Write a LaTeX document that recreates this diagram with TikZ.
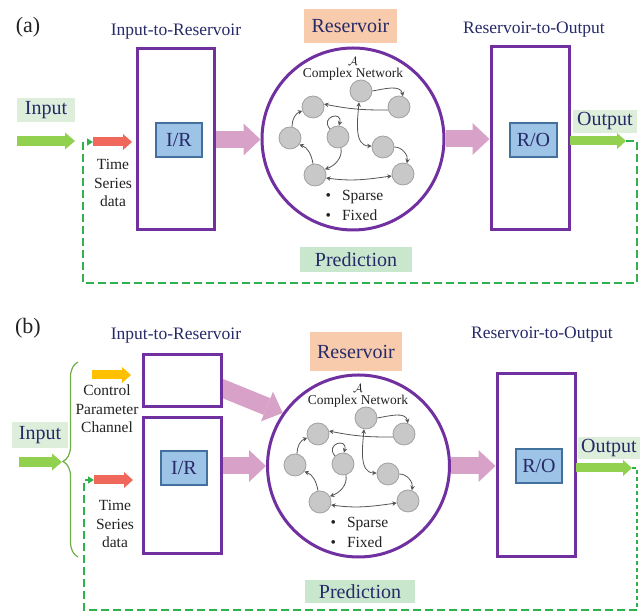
\documentclass[tikz,border=0pt]{standalone}
\usepackage{fontspec}
\setmainfont{Liberation Serif}
\usetikzlibrary{arrows.meta,decorations.pathreplacing,backgrounds,calc}
\definecolor{boxpurple}{HTML}{7030A0}
\definecolor{navy}{HTML}{262A68}
\definecolor{resfill}{HTML}{F8CBAD}
\definecolor{greenlab}{HTML}{DDEEDA}
\definecolor{predlab}{HTML}{C9E7CD}
\definecolor{irfill}{HTML}{9DC3E6}
\definecolor{irdraw}{HTML}{41719C}
\definecolor{arrgreen}{HTML}{92D050}
\definecolor{arrred}{HTML}{F0685C}
\definecolor{arryellow}{HTML}{FFC000}
\definecolor{arrpink}{HTML}{D8A2C8}
\definecolor{dashgreen}{HTML}{2EB34C}
\definecolor{bracegreen}{HTML}{70AD47}
\definecolor{nodegray}{HTML}{C8C8C8}
\definecolor{nodeline}{HTML}{A0A0A0}
\definecolor{edgegray}{HTML}{555555}
\definecolor{txt}{HTML}{222222}
\tikzset{
  bigbox/.style={draw=boxpurple, line width=3pt, fill=white, inner sep=0pt},
  smallbox/.style={draw=irdraw, line width=1.2pt, fill=irfill, inner sep=0pt, minimum width=46pt, minimum height=34pt, font=\fontsize{20}{20}\selectfont, text=navy},
  lab/.style={inner sep=0pt, font=\fontsize{20}{20}\selectfont, text=navy},
  heading/.style={font=\fontsize{17.5}{17.5}\selectfont, text=navy, inner sep=0pt},
  plab/.style={font=\fontsize{22}{22}\selectfont, inner sep=0pt, text=txt},
  smalltext/.style={font=\fontsize{15.5}{18.3}\selectfont, align=center, inner sep=0pt, text=txt},
  resv/.style={circle, draw=boxpurple, line width=3pt, fill=white, minimum size=182pt, inner sep=0pt},
  rnode/.style={circle, draw=nodeline, fill=nodegray, line width=0.8pt, minimum size=22pt, inner sep=0pt},
  redge/.style={draw=edgegray, line width=0.8pt, -{Stealth[length=4.5pt,width=4.5pt]}},
  redgetwo/.style={draw=edgegray, line width=0.8pt, {Stealth[length=4.5pt,width=4.5pt]}-{Stealth[length=4.5pt,width=4.5pt]}},
  pinkarrow/.style={draw=arrpink, line width=17pt, -{Triangle[length=17pt,width=32pt,line width=0pt]}},
  thinarrow/.style={draw=#1, line width=9pt, -{Triangle[length=9pt,width=16pt,line width=0pt]}},
  inarrow/.style={draw=arrgreen, line width=10pt, -{Triangle[length=10pt,width=17pt,line width=0pt]}},
  feedback/.style={draw=dashgreen, line width=2.6pt, dash pattern=on 8pt off 4pt},
  thinfeedback/.style={draw=dashgreen, line width=1.2pt, dash pattern=on 4pt off 3pt},
}
\newcommand\resnet{%
  \node[rnode] (n1) at (-40,32) {};
  \node[rnode] (n2) at (-63,1) {};
  \node[rnode] (n3) at (-15,2) {};
  \node[rnode] (n4) at (-38,-36) {};
  \node[rnode] (n5) at (8,48) {};
  \node[rnode] (n6) at (46,32) {};
  \node[rnode] (n7) at (30,-8) {};
  \node[rnode] (n8) at (50,-35) {};
  \node[font=\fontsize{13}{13}\selectfont, inner sep=0pt, text=txt] (calA) at (0,78) {$\mathcal{A}$};
  \node[font=\fontsize{13.5}{13.5}\selectfont, inner sep=0pt, text=txt] (cn) at (0,65) {Complex Network};
  \node[smalltext, anchor=west] (sp) at (-27.6,-58) {\textbullet\hspace{11pt}Sparse};
  \node[smalltext, anchor=west] (fx) at (-27.6,-76) {\textbullet\hspace{11pt}Fixed};
  \draw[redge] (n5.east) to[out=10, in=100] (n6.70);
  \draw[redge] (n6.195) to[bend left=6] (n1.15);
  \draw[redge] (n2.80) to[out=90, in=200] (n1.200);
  \draw[redge] (n3.135) .. controls +(130:16) and +(75:16) .. (n3.85);
  \draw[redge] (n3.-75) to[out=-80, in=20] (n4.30);
  \draw[redge] (n4.100) to[out=100, in=-20] (n2.-35);
  \draw[redgetwo] (n5.-100) to[out=-95, in=180] (n7.175);
  \draw[redge] (n7.east) to[out=0, in=80] (n8.70);
  \draw[redgetwo] (n4.-15) to[out=-8, in=188] (n8.190);
}
\begin{document}
\begin{tikzpicture}[x=1pt, y=1pt]
\useasboundingbox (0,0) rectangle (641,612);
% ================= panel (a) =================
\node[plab] (pa) at (28,585) {(a)};
\node[heading] (headA) at (176,580) {Input-to-Reservoir};
\node[heading] (headA2) at (534,582) {Reservoir-to-Output};
\node[bigbox, minimum width=77pt, minimum height=181pt] (ira) at (175.5,472.5) {};
\node[smallbox] (irsa) at (179,472) {I/R};
\node[resv] (resA) at (353,473) {};
\node[bigbox, minimum width=78pt, minimum height=183pt] (roa) at (530,473.5) {};
\node[smallbox, minimum width=47pt] (rosa) at (533.5,472) {R/O};
\node[lab, fill=resfill, minimum width=93pt, minimum height=34pt] (resla) at (350.5,586) {Reservoir};
\node[lab, fill=greenlab, minimum width=58pt, minimum height=24pt] (inla) at (46,502) {Input};
\node[lab, fill=greenlab, minimum width=64pt, minimum height=23pt] (outla) at (605,490.5) {Output};
\node[lab, fill=predlab, minimum width=112pt, minimum height=25pt] (predla) at (356,352.5) {Prediction};
\node[smalltext] (tsa) at (113,429) {Time\\Series\\data};
\begin{scope}[shift={(353,473)}, name prefix=a-]
\resnet
\end{scope}
\coordinate (inaS) at (17,471);
\coordinate (inaE) at (75,471);
\coordinate (redaS) at (93,470);
\coordinate (redaE) at (132,470);
\coordinate (outaS) at (570,471);
\coordinate (outaE) at (626,471);
\coordinate (fbaR) at (637,329);
\coordinate (fbaL) at (83,329);
\draw[inarrow] (inaS) -- (inaE);
\draw[thinarrow=arrred] (redaS) -- (redaE);
\draw[pinkarrow] (ira.east) -- (ira.east -| resA.west);
\draw[pinkarrow] (resA.east) -- (resA.east -| roa.west);
\draw[thinarrow=arrgreen] (outaS) -- (outaE);
\draw[feedback, -{Triangle[length=6pt,width=7pt]}] (outaE) -| (fbaR) -- (fbaL) |- (redaS);
% ================= panel (b) =================
\node[plab] (pb) at (28,284) {(b)};
\node[heading] (headB) at (176,276) {Input-to-Reservoir};
\node[heading] (headB2) at (542,277) {Reservoir-to-Output};
\node[bigbox, minimum width=78pt, minimum height=52pt] (ctrlb) at (182,231) {};
\node[bigbox, minimum width=78pt, minimum height=136pt] (irb) at (182,126) {};
\node[smallbox] (irsb) at (184,144) {I/R};
\node[resv] (resB) at (358.5,146) {};
\node[bigbox, minimum width=78pt, minimum height=183pt] (rob) at (536,146.5) {};
\node[smallbox] (rosb) at (539,146) {R/O};
\node[lab, fill=resfill, minimum width=92pt, minimum height=39pt] (reslb) at (356,260) {Reservoir};
\node[lab, fill=greenlab, minimum width=56pt, minimum height=26pt] (inlb) at (40,177) {Input};
\node[lab, fill=greenlab, minimum width=62pt, minimum height=22pt] (outlb) at (609,164) {Output};
\node[lab, fill=predlab, minimum width=110pt, minimum height=23pt] (predlb) at (360,20.5) {Prediction};
\node[smalltext] (cpc) at (107,203) {Control\\Parameter\\Channel};
\node[smalltext] (tsb) at (115,88) {Time\\Series\\data};
\begin{scope}[shift={(358,146)}, name prefix=b-]
\resnet
\end{scope}
\coordinate (braceB) at (78,55);
\coordinate (braceT) at (78,250);
\coordinate (bracetip) at (62,150);
\coordinate (inbS) at (19,150);
\coordinate (yelS) at (92,237);
\coordinate (yelE) at (131,237);
\coordinate (redbS) at (94,132);
\coordinate (redbE) at (133,132);
\coordinate (outbS) at (576,144);
\coordinate (outbE) at (632,144);
\coordinate (fbbR) at (637,2);
\coordinate (fbbL) at (84,2);
\draw[decorate, decoration={brace, amplitude=15pt, aspect=0.49}, draw=bracegreen, line width=1.2pt] (braceB) -- (braceT);
\draw[inarrow] (inbS) -- (bracetip);
\draw[thinarrow=arryellow] (yelS) -- (yelE);
\draw[thinarrow=arrred] (redbS) -- (redbE);
\begin{pgfonlayer}{background}
\draw[pinkarrow, line width=18pt] ($(ctrlb.center)+(0,9)$) -- (resB.145);
\end{pgfonlayer}
\draw[pinkarrow] (resB.west -| irb.east) -- (resB.west);
\draw[pinkarrow] (resB.east) -- (resB.east -| rob.west);
\draw[thinarrow=arrgreen] (outbS) -- (outbE);
\draw[thinfeedback] (outbE) -| (fbbR);
\draw[feedback, -{Triangle[length=6pt,width=7pt]}] (fbbR) -- (fbbL) |- (redbS);
\end{tikzpicture}
\end{document}
